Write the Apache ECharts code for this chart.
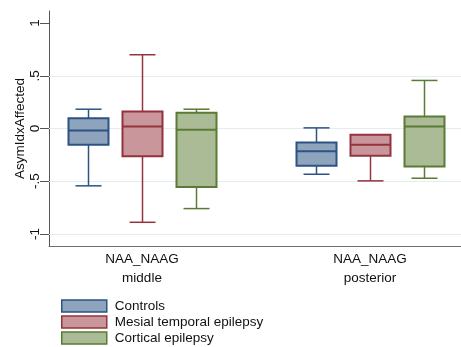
<!DOCTYPE html>
<html>
<head>
<meta charset="utf-8">
<script src="https://cdn.jsdelivr.net/npm/echarts@6/dist/echarts.min.js"></script>
<style>html,body{margin:0;padding:0;background:#fff}#c{width:461px;height:347px}</style>
</head>
<body>
<div id="c"></div>
<script>
// ---- data ----
var groupNames = ['Controls', 'Mesial temporal epilepsy', 'Cortical epilepsy'];
var regionLabels = ['NAA_NAAG\nmiddle', 'NAA_NAAG\nposterior'];
// each row: [min, Q1, median, Q3, max] for [middle, posterior]
var controls = [[-0.544, -0.155, -0.019, 0.098, 0.183], [-0.434, -0.354, -0.215, -0.133, 0.006]];
var mesial   = [[-0.890, -0.263, 0.019, 0.161, 0.700], [-0.497, -0.259, -0.155, -0.060, -0.060]];
var cortical = [[-0.760, -0.554, -0.012, 0.149, 0.183], [-0.472, -0.361, 0.019, 0.114, 0.456]];
var yTickValues = [-1, -0.5, 0, 0.5, 1];
var yTickLabels = ['-1', '-.5', '0', '.5', '1'];
var gridValues = [-1, -0.5, 0, 0.5];

// ---- layout (positions along a hidden value x axis) ----
var regionCenters = [93, 321];
var groupOffsets = [-54, 0, 54];
var fills = ['#8ea4bc', '#c8969b', '#aabb95'];
var borders = ['#2c5383', '#94333d', '#5a7a35'];
var allData = [controls, mesial, cortical];

function renderBox(params, api) {
  var x = api.value(0);
  var mn = api.coord([x, api.value(1)]);
  var q1 = api.coord([x, api.value(2)]);
  var md = api.coord([x, api.value(3)]);
  var q3 = api.coord([x, api.value(4)]);
  var mx = api.coord([x, api.value(5)]);
  var cx = Math.round(mn[0]) + 0.5;
  var hw = 20, cw = 13;
  var si = params.seriesIndex - 1;
  var stroke = borders[si];
  var lineStyle = {stroke: stroke, lineWidth: 1.5, fill: null};
  return {
    type: 'group',
    children: [
      {type: 'line', shape: {x1: cx, y1: q3[1], x2: cx, y2: mx[1]}, style: lineStyle},
      {type: 'line', shape: {x1: cx, y1: q1[1], x2: cx, y2: mn[1]}, style: lineStyle},
      {type: 'line', shape: {x1: cx - cw, y1: mx[1], x2: cx + cw, y2: mx[1]}, style: lineStyle},
      {type: 'line', shape: {x1: cx - cw, y1: mn[1], x2: cx + cw, y2: mn[1]}, style: lineStyle},
      {type: 'rect', shape: {x: cx - hw, y: q3[1], width: 2 * hw, height: q1[1] - q3[1]},
        style: {fill: fills[si], stroke: stroke, lineWidth: 2}},
      {type: 'line', shape: {x1: cx - hw, y1: md[1], x2: cx + hw, y2: md[1]}, style: {stroke: stroke, lineWidth: 2}}
    ]
  };
}

var series = [{
  type: 'line', data: [], silent: true, z: 1,
  markLine: {
    silent: true, symbol: 'none', z: 1, animation: false,
    label: {show: false},
    lineStyle: {color: '#e3ecee', width: 1, type: 'solid'},
    data: gridValues.map(function (v) { return {yAxis: v}; })
  }
}];
groupNames.forEach(function (name, gi) {
  series.push({
    name: name,
    type: 'custom',
    z: 3,
    itemStyle: {color: fills[gi], borderColor: borders[gi]},
    renderItem: renderBox,
    data: allData[gi].map(function (d, ri) {
      return [regionCenters[ri] + groupOffsets[gi]].concat(d);
    })
  });
});

var chart = echarts.init(document.getElementById('c'), null, {renderer: 'canvas'});
chart.setOption({
  animation: false,
  backgroundColor: '#fff',
  textStyle: {fontFamily: 'Liberation Sans, Arial, sans-serif'},
  grid: {left: 49, right: 0, top: 11, bottom: 101, containLabel: false},
  xAxis: {
    type: 'value', min: 0, max: 412,
    axisLine: {show: true, onZero: false, lineStyle: {color: '#6e6e6e', width: 1}},
    axisTick: {show: false},
    splitLine: {show: false},
    axisLabel: {
      customValues: regionCenters,
      margin: 4,
      fontSize: 13.5, lineHeight: 19, color: '#111',
      formatter: function (v) { return regionLabels[regionCenters.indexOf(v)]; }
    }
  },
  yAxis: {
    type: 'value', min: -1.115, max: 1.115,
    name: 'AsymIdxAffected', nameLocation: 'middle', nameRotate: 90, nameGap: 22,
    nameMoveOverlap: false,
    nameTextStyle: {fontSize: 13.5, color: '#111'},
    axisLine: {show: true, lineStyle: {color: '#555', width: 1}},
    axisTick: {show: true, customValues: yTickValues, length: 9, lineStyle: {color: '#555'}},
    splitLine: {show: false},
    axisLabel: {
      customValues: yTickValues, rotate: 90, margin: 7, fontSize: 13.5, color: '#111',
      formatter: function (v) { return yTickLabels[yTickValues.indexOf(v)]; }
    }
  },
  legend: {
    orient: 'vertical', left: 61, top: 298, height: 60, padding: 0,
    itemWidth: 45, itemHeight: 12, itemGap: 0,
    icon: 'rect',
    textStyle: {fontSize: 13.5, lineHeight: 16, color: '#111', padding: [0, 0, 0, 3]},
    data: groupNames.map(function (n, i) {
      return {name: n, icon: 'rect', itemStyle: {color: fills[i], borderColor: borders[i], borderWidth: 1.5}};
    })
  },
  series: series
});
</script>
</body>
</html>
